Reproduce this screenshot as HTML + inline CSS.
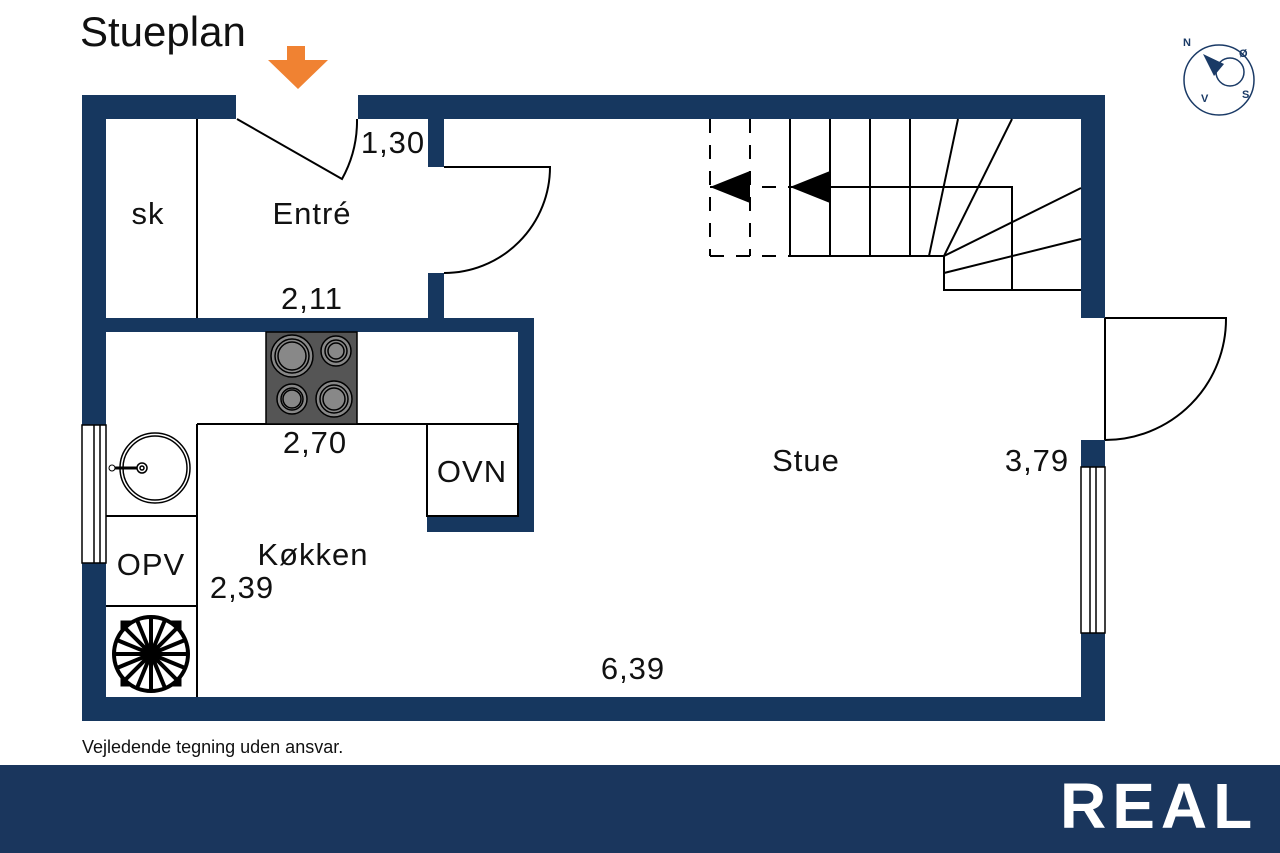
<!DOCTYPE html>
<html><head><meta charset="utf-8"><style>
html,body{margin:0;padding:0;background:#fff;}
svg{display:block;font-family:"Liberation Sans",sans-serif;}
</style></head><body>
<svg width="1280" height="853" viewBox="0 0 1280 853" xmlns="http://www.w3.org/2000/svg">
<rect width="1280" height="853" fill="#fff"/>
<text x="80" y="46" font-size="42" fill="#111">Stueplan</text>
<rect x="287" y="46" width="18" height="15" fill="#f08232"/>
<polygon points="268,60 328,60 298,89" fill="#f08232"/>
<!-- compass -->
<g fill="none" stroke="#1a3a66" stroke-width="1.5">
<circle cx="1219" cy="80" r="35"/>
<circle cx="1230" cy="72" r="14"/>
</g>
<polygon points="1203,54 1224,64 1214,76" fill="#1a3a66"/>
<g font-size="11" font-weight="bold" fill="#1a3a66">
<text x="1183" y="46">N</text><text x="1239" y="57">Ø</text><text x="1201" y="102">V</text><text x="1242" y="98">S</text>
</g>
<!-- walls -->
<g fill="#16375f">
<rect x="82" y="95" width="154" height="24"/>
<rect x="358" y="95" width="747" height="24"/>
<rect x="82" y="95" width="24" height="330"/>
<rect x="428" y="119" width="16" height="48"/>
<rect x="428" y="273" width="16" height="45"/>
<rect x="1081" y="95" width="24" height="223"/>
<rect x="106" y="318" width="428" height="14"/>
<rect x="518" y="318" width="16" height="214"/>
<rect x="427" y="516" width="107" height="16"/>
<rect x="82" y="563" width="24" height="158"/>
<rect x="82" y="697" width="1023" height="24"/>
<rect x="1081" y="633" width="24" height="88"/>
<rect x="1081" y="440" width="24" height="27"/>
</g>
<!-- windows -->
<g fill="#fff" stroke="#000" stroke-width="1.5">
<rect x="82" y="425" width="24" height="138"/>
<line x1="94" y1="425" x2="94" y2="563"/><line x1="100" y1="425" x2="100" y2="563"/>
<rect x="1081" y="467" width="24" height="166"/>
<line x1="1090" y1="467" x2="1090" y2="633"/><line x1="1096" y1="467" x2="1096" y2="633"/>
</g>
<g fill="none" stroke="#000" stroke-width="2">
<!-- entrance door -->
<path d="M237,119 L342,179 A120,120 0 0 0 357,119"/>
<!-- entre door -->
<path d="M444,167 H550 A106,106 0 0 1 444,273"/>
<!-- right door -->
<path d="M1105,318 V440 M1105,318 H1226 A121,121 0 0 1 1105,440"/>
<!-- interior lines -->
<line x1="197" y1="119" x2="197" y2="318"/>
<line x1="197" y1="424" x2="197" y2="697"/>
<line x1="197" y1="424" x2="518" y2="424"/>
<line x1="106" y1="516" x2="197" y2="516"/>
<line x1="106" y1="606" x2="197" y2="606"/>
<rect x="427" y="424" width="91" height="92"/>
<!-- stairs -->
<line x1="790" y1="119" x2="790" y2="256"/>
<line x1="830" y1="119" x2="830" y2="256"/>
<line x1="870" y1="119" x2="870" y2="256"/>
<line x1="910" y1="119" x2="910" y2="256"/>
<line x1="790" y1="256" x2="944" y2="256"/>
<line x1="929" y1="256" x2="958" y2="119"/>
<line x1="944" y1="256" x2="1012" y2="119"/>
<path d="M790,187 H1012 V290"/>
<path d="M944,256 V290 H1081"/>
<line x1="944" y1="256" x2="1081" y2="188"/>
<line x1="944" y1="273" x2="1081" y2="239"/>
<g stroke-dasharray="14,12">
<line x1="710" y1="119" x2="710" y2="256"/>
<line x1="750" y1="119" x2="750" y2="256"/>
<line x1="710" y1="256" x2="790" y2="256"/>
<line x1="710" y1="187" x2="790" y2="187"/>
</g>
</g>
<polygon points="710,187 750,171 750,203" fill="#000"/>
<polygon points="790,187 830,171 830,203" fill="#000"/>
<!-- stove -->
<rect x="266" y="332" width="91" height="92" fill="#555" stroke="#000" stroke-width="1.5"/>
<g stroke="#000" stroke-width="1.5" fill="#888">
<circle cx="292" cy="356" r="21"/><circle cx="292" cy="356" r="17" fill="none"/><circle cx="292" cy="356" r="14"/>
<circle cx="336" cy="351" r="15"/><circle cx="336" cy="351" r="11" fill="none"/><circle cx="336" cy="351" r="8"/>
<circle cx="292" cy="399" r="15"/><circle cx="292" cy="399" r="11" fill="none"/><circle cx="292" cy="399" r="9"/>
<circle cx="334" cy="399" r="18"/><circle cx="334" cy="399" r="14" fill="none"/><circle cx="334" cy="399" r="11"/>
</g>
<!-- sink -->
<g fill="none" stroke="#000" stroke-width="1.5">
<circle cx="155" cy="468" r="35"/><circle cx="155" cy="468" r="32"/>
<circle cx="142" cy="468" r="5"/><circle cx="142" cy="468" r="2"/>
<line x1="113" y1="468" x2="137" y2="468" stroke-width="3"/>
</g>
<circle cx="112" cy="468" r="3" fill="#fff" stroke="#000"/>
<!-- fan -->
<g stroke="#000">
<rect x="121" y="621" width="60" height="65" fill="#000"/>
<circle cx="151" cy="654" r="37" fill="#fff" stroke-width="4"/>
<g stroke-width="4">
<line x1="151" y1="617" x2="151" y2="691"/><line x1="114" y1="654" x2="188" y2="654"/>
<line x1="125" y1="628" x2="177" y2="680"/><line x1="177" y1="628" x2="125" y2="680"/>
<line x1="137" y1="620" x2="165" y2="688"/><line x1="165" y1="620" x2="137" y2="688"/>
<line x1="117" y1="640" x2="185" y2="668"/><line x1="185" y1="640" x2="117" y2="668"/>
</g>
<circle cx="151" cy="654" r="10" fill="#000"/>
</g>
<!-- labels -->
<g font-size="31" fill="#111" text-anchor="middle" letter-spacing="1">
<text x="148" y="224">sk</text>
<text x="312" y="224">Entré</text>
<text x="393" y="153">1,30</text>
<text x="312" y="309">2,11</text>
<text x="315" y="453">2,70</text>
<text x="472" y="482">OVN</text>
<text x="313" y="565">Køkken</text>
<text x="151" y="575">OPV</text>
<text x="242" y="598">2,39</text>
<text x="633" y="679">6,39</text>
<text x="806" y="471">Stue</text>
<text x="1037" y="471">3,79</text>
</g>
<text x="82" y="753" font-size="18" fill="#111">Vejledende tegning uden ansvar.</text>
<rect x="0" y="765" width="1280" height="88" fill="#1a365d"/>
<text x="1060" y="828" font-size="64" font-weight="bold" fill="#fff" letter-spacing="6">REAL</text>
</svg>
</body></html>
